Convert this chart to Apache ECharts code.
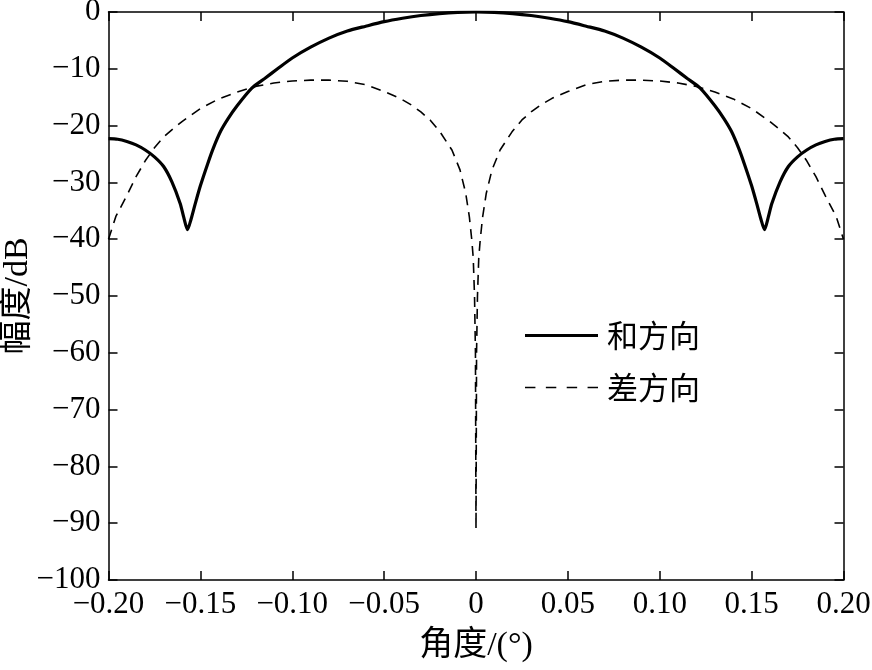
<!DOCTYPE html>
<html>
<head>
<meta charset="utf-8">
<script src="https://cdn.jsdelivr.net/npm/echarts@6/dist/echarts.min.js"></script>
<style>
html,body{margin:0;padding:0;background:#fff;}
#chart{width:872px;height:670px;}
</style>
</head>
<body>
<div id="chart"></div>
<script>
// ---- data ----
var sumAngle = [-0.200,-0.195,-0.190,-0.185,-0.180,-0.175,-0.170,-0.1655,-0.161,-0.159,-0.157,-0.155,-0.153,-0.150,-0.146,-0.143,-0.139,-0.135,-0.130,-0.122,-0.115,-0.108,-0.100,-0.090,-0.080,-0.070,-0.060,-0.050,-0.040,-0.030,-0.020,-0.010,0,
                0.010,0.020,0.030,0.040,0.050,0.060,0.070,0.080,0.090,0.100,0.108,0.115,0.122,0.130,0.135,0.139,0.143,0.146,0.150,0.153,0.155,0.157,0.159,0.161,0.1655,0.170,0.175,0.180,0.185,0.190,0.195,0.200];
var sumValue = [-22.3,-22.4,-22.8,-23.4,-24.3,-25.5,-27.2,-29.9,-33.7,-36.2,-38.3,-36.4,-34.0,-30.6,-26.7,-24.0,-21.0,-18.8,-16.5,-13.4,-11.7,-10.0,-8.1,-6.2,-4.6,-3.35,-2.5,-1.7,-1.1,-0.62,-0.28,-0.07,0,
                -0.07,-0.28,-0.62,-1.1,-1.7,-2.5,-3.35,-4.6,-6.2,-8.1,-10.0,-11.7,-13.4,-16.5,-18.8,-21.0,-24.0,-26.7,-30.6,-34.0,-36.4,-38.3,-36.2,-33.7,-29.9,-27.2,-25.5,-24.3,-23.4,-22.8,-22.4,-22.3];

var diffAngle = [-0.200,-0.196,-0.190,-0.185,-0.180,-0.175,-0.170,-0.165,-0.160,-0.150,-0.140,-0.130,-0.120,-0.110,-0.100,-0.090,-0.080,-0.070,-0.060,-0.050,-0.0414,-0.035,-0.030,-0.025,-0.0196,-0.0131,-0.0087,-0.0056,-0.0036,-0.0023,-0.0015,-0.0008,-0.0003,0,
                 0.0003,0.0008,0.0015,0.0023,0.0036,0.0056,0.0087,0.0131,0.0196,0.025,0.030,0.035,0.0414,0.050,0.060,0.070,0.080,0.090,0.100,0.110,0.120,0.130,0.140,0.150,0.160,0.165,0.170,0.175,0.180,0.185,0.190,0.196,0.200];
var diffValue = [-40.0,-36.0,-32.3,-29.0,-26.2,-23.9,-22.0,-20.6,-19.3,-17.0,-15.3,-14.1,-13.1,-12.5,-12.15,-12.0,-12.0,-12.2,-12.8,-14.0,-15.2,-16.4,-17.6,-19.0,-21.1,-24.3,-27.8,-31.9,-36.1,-40.1,-43.3,-50.0,-60.0,-91.0,
                 -60.0,-50.0,-43.3,-40.1,-36.1,-31.9,-27.8,-24.3,-21.1,-19.0,-17.6,-16.4,-15.2,-14.0,-12.8,-12.2,-12.0,-12.0,-12.15,-12.5,-13.1,-14.1,-15.3,-17.0,-19.3,-20.6,-22.0,-23.9,-26.2,-29.0,-32.3,-36.0,-40.0];

var seriesNames = ['和方向', '差方向'];
var xTitle = '角度/(°)';
var yTitle = '幅度/dB';

// ---- chart ----
var LATIN = '"Liberation Serif", "Times New Roman", serif';
var CJK = '"Liberation Serif", "Noto Sans CJK SC", serif';
function fmtX(v){ if (Math.abs(v) < 1e-9) return '0'; return v.toFixed(2).replace('-', '\u2212'); }
function fmtY(v){ return String(v).replace('-', '\u2212'); }

var axisLine = {show:true, onZero:false, lineStyle:{color:'#000', width:1.5}};
var axisTick = {show:true, inside:true, length:9, lineStyle:{color:'#000', width:1.5}};

var chart = echarts.init(document.getElementById('chart'), null, {renderer:'canvas'});
chart.setOption({
  animation:false,
  backgroundColor:'#fff',
  grid:{left:108.5, right:28.5, top:12, bottom:90, containLabel:false, outerBoundsMode:'none'},
  xAxis:[{
    type:'value', min:-0.2, max:0.2, interval:0.05, position:'bottom',
    axisLine:axisLine, axisTick:axisTick, splitLine:{show:false},
    axisLabel:{formatter:fmtX, color:'#000', fontFamily:LATIN, fontSize:31, margin:9},
    name:xTitle, nameLocation:'middle', nameGap:66, nameMoveOverlap:false,
    nameTextStyle:{color:'#000', fontFamily:CJK, fontSize:34, verticalAlign:'middle'}
  },{
    type:'value', min:-0.2, max:0.2, interval:0.05, position:'top',
    axisLine:axisLine, axisTick:axisTick, splitLine:{show:false},
    axisLabel:{show:false}
  }],
  yAxis:[{
    type:'value', min:-100, max:0, interval:10, position:'left',
    axisLine:axisLine, axisTick:axisTick, splitLine:{show:false},
    axisLabel:{formatter:fmtY, color:'#000', fontFamily:LATIN, fontSize:31, margin:8},
    name:yTitle, nameLocation:'middle', nameGap:90, nameRotate:90, nameMoveOverlap:false,
    nameTextStyle:{color:'#000', fontFamily:CJK, fontSize:34, verticalAlign:'middle'}
  },{
    type:'value', min:-100, max:0, interval:10, position:'right',
    axisLine:axisLine, axisTick:axisTick, splitLine:{show:false},
    axisLabel:{show:false}
  }],
  legend:{
    orient:'vertical', left:525, top:320, padding:0, itemWidth:73, itemHeight:20, itemGap:21,
    textStyle:{color:'#000', fontFamily:'"Noto Sans CJK SC", sans-serif', fontSize:31, padding:[0,0,0,4]},
    data:[
      {name:seriesNames[0], icon:'path://M0,8.5 L73,8.5 L73,11.5 L0,11.5 Z'},
      {name:seriesNames[1], icon:'path://M0,9.2 L10,9.2 L10,10.8 L0,10.8 Z M20,9.2 L30,9.2 L30,10.8 L20,10.8 Z M40,9.2 L50,9.2 L50,10.8 L40,10.8 Z M60,9.2 L70,9.2 L70,10.8 L60,10.8 Z'}
    ]
  },
  series:[{
    name:seriesNames[0], type:'line', xAxisIndex:0, yAxisIndex:0,
    symbol:'none', showSymbol:false, smooth:0.25,
    lineStyle:{color:'#000', width:3.2, type:'solid'},
    itemStyle:{color:'#000'},
    data: sumAngle.map(function(a,i){ return [a, sumValue[i]]; })
  },{
    name:seriesNames[1], type:'line', xAxisIndex:0, yAxisIndex:0,
    symbol:'none', showSymbol:false, smooth:false,
    lineStyle:{color:'#000', width:1.6, type:[10,7]},
    itemStyle:{color:'#000'},
    data: diffAngle.map(function(a,i){ return [a, diffValue[i]]; })
  }]
});
</script>
</body>
</html>
